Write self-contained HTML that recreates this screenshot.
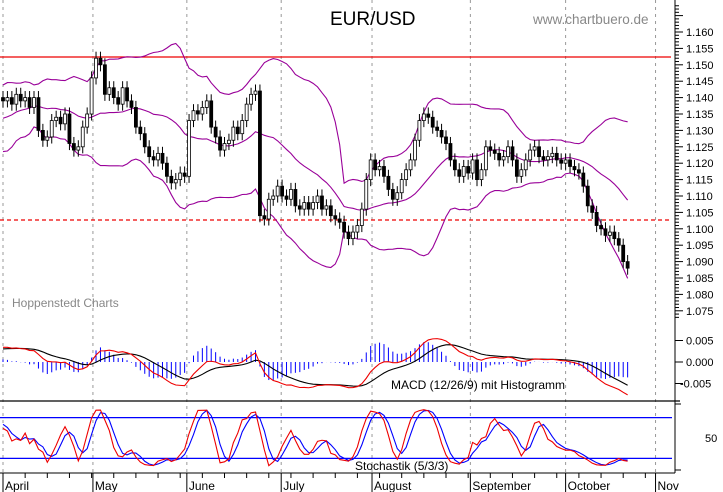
<!DOCTYPE html>
<html><head><meta charset="utf-8">
<style>
html,body{margin:0;padding:0;background:#fff;}
svg{display:block;font-family:"Liberation Sans",sans-serif;}
</style></head>
<body>
<svg id="chart" width="723" height="492" viewBox="0 0 723 492" xmlns="http://www.w3.org/2000/svg">
<rect width="723" height="492" fill="#fff"/>
<g id="grid"></g>
<line x1="0" y1="57" x2="671" y2="57" stroke="#e00" stroke-width="1.2"/>
<line x1="0" y1="220" x2="671" y2="220" stroke="#e00" stroke-width="1.2" stroke-dasharray="4,3"/>
<g id="bands"></g>
<g id="candles"></g>
<g id="macd"></g>
<g id="stoch"></g>
<g id="axes"></g>
<text x="330" y="25" font-size="19" fill="#000">EUR/USD</text>
<text x="533" y="24" font-size="13.5" fill="#888">www.chartbuero.de</text>
<text x="12" y="307" font-size="12" fill="#888">Hoppenstedt Charts</text>
<text x="391" y="389" font-size="12" fill="#000">MACD (12/26/9) mit Histogramm</text>
<text x="355" y="470" font-size="12" fill="#000">Stochastik (5/3/3)</text>
</svg>
<script>
const preCloses=[1.118,1.121,1.119,1.123,1.125,1.122,1.126,1.129,1.127,1.124,1.128,1.131,1.129,1.127,1.130,1.133,1.131,1.128,1.126,1.129,
1.128,1.131,1.126,1.124,1.129,1.133,1.130,1.127,1.132,1.136,1.134,1.130,1.135,1.139,1.137,1.133,1.138,1.142,1.139,1.140];
const closes=[
1.139,1.140,1.138,1.141,1.139,1.140,1.137,1.140,1.130,1.127,1.128,1.133,1.134,1.132,1.135,1.126,1.124,1.125,1.131,1.135,1.146,
1.152,1.150,1.141,1.143,1.140,1.138,1.143,1.139,1.137,1.131,1.129,1.125,1.122,1.121,1.123,1.120,1.116,1.114,1.115,1.117,1.116,
1.133,1.136,1.135,1.137,1.139,1.131,1.128,1.124,1.126,1.127,1.131,1.129,1.133,1.138,1.141,1.142,1.104,1.103,1.109,1.110,1.113,
1.110,1.109,1.112,1.107,1.106,1.108,1.106,1.108,1.110,1.106,1.107,1.104,1.103,1.102,1.099,1.097,1.099,1.101,1.106,1.115,1.121,
1.118,1.119,1.116,1.112,1.109,1.111,1.115,1.118,1.121,1.127,1.133,1.135,1.134,1.131,1.130,1.128,1.126,1.121,1.118,1.116,1.119,1.117,
1.121,1.115,1.118,1.125,1.124,1.123,1.121,1.122,1.125,1.121,1.116,1.118,1.121,1.124,1.125,1.122,1.121,1.122,1.123,1.121,1.120,1.121,
1.119,1.118,1.117,1.113,1.107,1.105,1.101,1.100,1.098,1.099,1.097,1.095,1.090,1.088];
const months=["April","May","June","July","August","September","October","Nov"];
const monthStartIdx=[0,20.3,41.5,62.8,83.3,105.5,127,147.3];
const priceTicks=[1.160,1.155,1.150,1.145,1.140,1.135,1.130,1.125,1.120,1.115,1.110,1.105,1.100,1.095,1.090,1.085,1.080,1.075];
const macdTicks=[0.005,0.000,-0.005];
const stochTicks=[50];
const stochLevels=[80,20];

const NS="http://www.w3.org/2000/svg";
function mk(tag,attrs,parent){const e=document.createElementNS(NS,tag);for(const k in attrs)e.setAttribute(k,attrs[k]);parent.appendChild(e);return e;}
const xOf=i=>3+i*4.43;
const yP=p=>32+(1.160-p)*3280;
const yM=m=>362-m*4300;
const yS=v=>438-(v-50)*0.68;

const all=preCloses.concat(closes);const off=preCloses.length;
const opens=all.map((c,i)=>i?all[i-1]:c);
const highs=all.map((c,i)=>Math.max(c,opens[i])+0.002);
const lows=all.map((c,i)=>Math.min(c,opens[i])-0.002);

const grid=document.getElementById('grid');
monthStartIdx.forEach((mi,k)=>{const x=xOf(mi);
 const l=mk('line',{x1:x,y1:0,x2:x,y2:473,stroke:'#999','stroke-dasharray':'3,4','stroke-width':1},grid);
 
 });

const bands=document.getElementById('bands');
const up=[],mid=[],lo=[];
for(let i=off;i<all.length;i++){const w=all.slice(i-19,i+1);const m=w.reduce((a,b)=>a+b)/20;
 const sd=Math.sqrt(w.reduce((a,b)=>a+(b-m)*(b-m),0)/19);const x=xOf(i-off);
 up.push(x+','+yP(m+2*sd));mid.push(x+','+yP(m));lo.push(x+','+yP(m-2*sd));}
[['upper',up],['middle',mid],['lower',lo]].forEach(([n,pts])=>{const p=mk('polyline',{points:pts.join(' '),fill:'none',stroke:'#909','stroke-width':1.1},bands);
 
 });

const cg=document.getElementById('candles');
closes.forEach((c,j)=>{const i=j+off;const x=xOf(j);const o=opens[i];
 const w=mk('line',{x1:x,y1:yP(highs[i]),x2:x,y2:yP(lows[i]),stroke:'#000','stroke-width':1},cg);
 
 
 const top=yP(Math.max(o,c)),bot=yP(Math.min(o,c));
 const r=mk('rect',{x:x-1.5,y:top,width:3,height:Math.max(1,bot-top),fill:c<o?'#000':'#fff',stroke:'#000','stroke-width':0.8},cg);
 
 });

function ema(arr,n){const k=2/(n+1);const out=[];arr.forEach((v,i)=>out.push(i?v*k+out[i-1]*(1-k):v));return out;}
const e12=ema(all,12),e26=ema(all,26);const macd=all.map((v,i)=>e12[i]-e26[i]);const sig=ema(macd,9);
const mg=document.getElementById('macd');
const mPts=[],sPts=[];
for(let i=off;i<all.length;i++){const x=xOf(i-off);mPts.push(x+','+yM(macd[i]));sPts.push(x+','+yM(sig[i]));
 const h=(macd[i]-sig[i])*1.6;
 const b=mk('line',{x1:x,y1:yM(0),x2:x,y2:yM(h),stroke:'#00f','stroke-width':1},mg);
 
 }
const sl=mk('polyline',{points:sPts.join(' '),fill:'none',stroke:'#000','stroke-width':1.1},mg);


const ml=mk('polyline',{points:mPts.join(' '),fill:'none',stroke:'#e00','stroke-width':1.1},mg);



const raw=all.map((c,i)=>{if(i<4)return 50;const hh=Math.max(...highs.slice(i-4,i+1)),ll=Math.min(...lows.slice(i-4,i+1));return (c-ll)/(hh-ll)*100;});
const sma3=a=>a.map((v,i)=>i<2?v:(a[i]+a[i-1]+a[i-2])/3);
const K=sma3(raw),D=sma3(K);
const sg=document.getElementById('stoch');
stochLevels.forEach(v=>{const l=mk('line',{x1:0,y1:yS(v),x2:672,y2:yS(v),stroke:'#00f','stroke-width':1.2},sg);
 
 });
const kP=[],dP=[];
for(let i=off;i<all.length;i++){const x=xOf(i-off);kP.push(x+','+yS(K[i]));dP.push(x+','+yS(D[i]));}
const dl=mk('polyline',{points:dP.join(' '),fill:'none',stroke:'#00f','stroke-width':1.1},sg);


const kl=mk('polyline',{points:kP.join(' '),fill:'none',stroke:'#e00','stroke-width':1.1},sg);



const ax=document.getElementById('axes');
const sep=mk('line',{x1:0,y1:401,x2:680,y2:401,stroke:'#000','stroke-width':1.2},ax);


const yax=mk('line',{x1:675,y1:0,x2:675,y2:473,stroke:'#000','stroke-width':1},ax);


const xax=mk('line',{x1:0,y1:473,x2:675,y2:473,stroke:'#000','stroke-width':1},ax);


for(let p=1.168;p>=1.073;p-=0.001){const y=yP(p);if(y<0)continue;const major=Math.abs(Math.round(p*1000)%5)===0;
 mk('line',{x1:675,y1:y,x2:major?683:679,y2:y,stroke:'#000','stroke-width':1},ax);}
priceTicks.forEach(p=>{const t=mk('text',{x:686,y:yP(p)+4,'font-size':11,fill:'#000'},ax);t.textContent=p.toFixed(3);
 
 });
macdTicks.forEach(m=>{mk('line',{x1:675,y1:yM(m),x2:683,y2:yM(m),stroke:'#000'},ax);
 const t=mk('text',{x:m<0?680:686,y:yM(m)+4,'font-size':11,fill:'#000'},ax);t.textContent=m.toFixed(3);
 
 });
stochTicks.forEach(v=>{const t=mk('text',{x:705,y:yS(v)+4,'font-size':11,fill:'#000'},ax);t.textContent=v;
 
 });
mk('line',{x1:675,y1:404,x2:681,y2:404,stroke:'#000'},ax);
mk('line',{x1:675,y1:470,x2:681,y2:470,stroke:'#000'},ax);
for(let i=0;i<150;i+=5){const x=xOf(i);if(x>672)break;mk('line',{x1:x,y1:473,x2:x,y2:478,stroke:'#000'},ax);}
months.forEach((m,k)=>{const x=xOf(monthStartIdx[k]);
 mk('line',{x1:x,y1:473,x2:x,y2:492,stroke:'#000'},ax);
 const t=mk('text',{x:x+2,y:490,'font-size':12,fill:'#000'},ax);t.textContent=m;
 
 });
</script>
</body></html>
